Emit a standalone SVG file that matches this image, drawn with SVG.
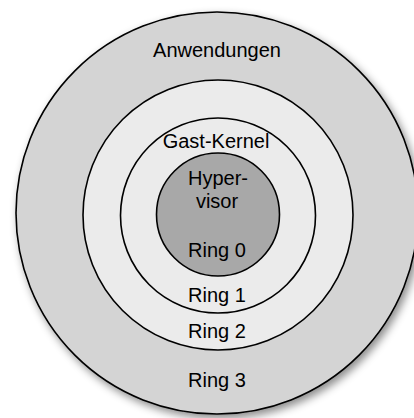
<svg xmlns="http://www.w3.org/2000/svg" width="414" height="418" viewBox="0 0 414 418">
  <defs>
    <filter id="shadow" x="-10%" y="-10%" width="125%" height="125%">
      <feDropShadow dx="3" dy="4" stdDeviation="4" flood-color="#000" flood-opacity="0.45"/>
    </filter>
    <style>
      .ring { stroke: #000; stroke-width: 1.6; }
      .label { font-family: "Liberation Sans", Arial, sans-serif; font-size: 20px; fill: #000; text-anchor: middle; }
    </style>
  </defs>
  <rect width="414" height="418" fill="#fff"/>

  <!-- Ring 3: applications -->
  <g id="ring3">
    <circle class="ring" cx="217" cy="213" r="201" fill="#d4d4d4" filter="url(#shadow)"/>
    <text class="label" x="217" y="57">Anwendungen</text>
    <text class="label" x="217" y="387">Ring 3</text>
  </g>

  <!-- Ring 2 -->
  <g id="ring2">
    <circle class="ring" cx="218" cy="215" r="135" fill="#ebebeb"/>
    <text class="label" x="217" y="338">Ring 2</text>
  </g>

  <!-- Ring 1: guest kernel -->
  <g id="ring1">
    <circle class="ring" cx="218" cy="215.5" r="97.5" fill="#ebebeb"/>
    <text class="label" x="216" y="148">Gast-Kernel</text>
    <text class="label" x="217" y="302">Ring 1</text>
  </g>

  <!-- Ring 0: hypervisor -->
  <g id="ring0">
    <circle class="ring" cx="218" cy="214.5" r="61.5" fill="#a8a8a8"/>
    <text class="label" x="218" y="185">Hyper-</text>
    <text class="label" x="217" y="208">visor</text>
    <text class="label" x="217" y="257">Ring 0</text>
  </g>
</svg>
